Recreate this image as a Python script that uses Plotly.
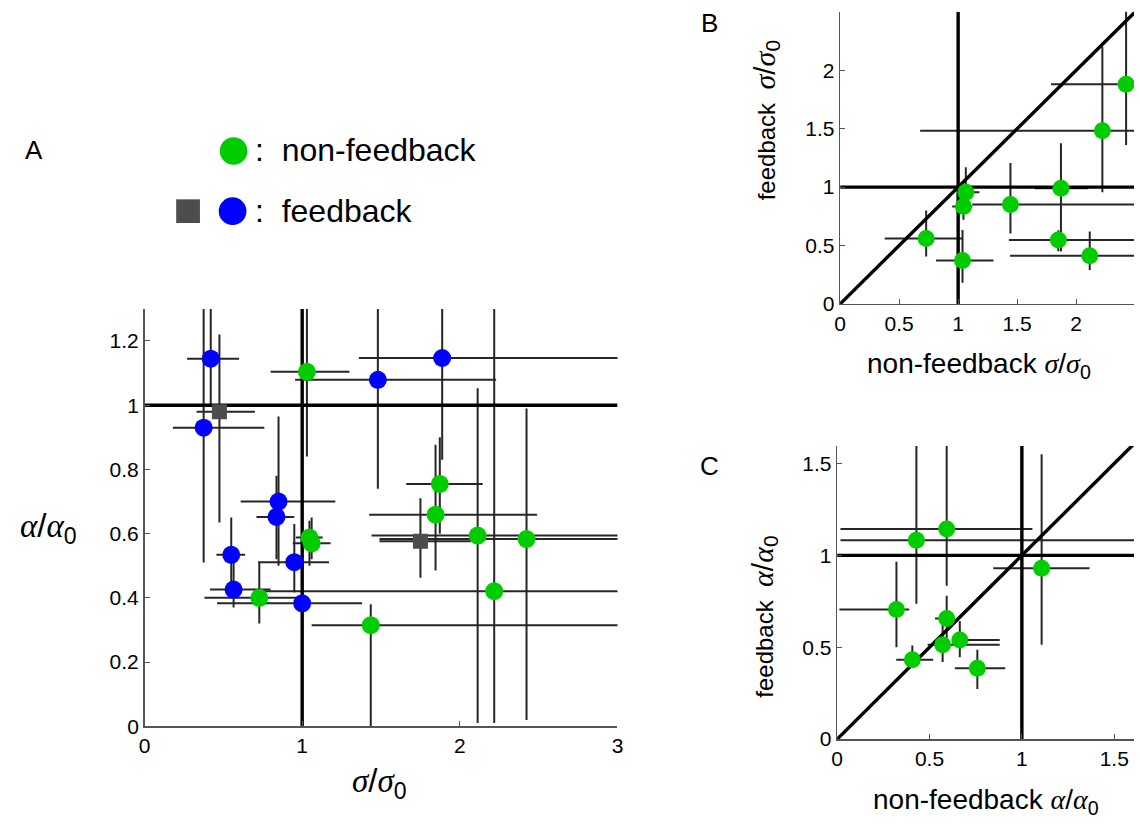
import plotly.graph_objects as go

W, H = 1140, 835
GREEN = '#00CC00'
BLUE = '#0000FF'
GRAY = '#4D4D4D'
ERR = '#262626'
AXC = '#555555'
FONT = 'Liberation Sans, Arial, sans-serif'

# ---------------- Panel A : alpha/alpha0 vs sigma/sigma0 ----------------
# non-feedback (green)
a_nf_sig = [1.03, 1.873, 1.846, 1.046, 1.06, 2.113, 2.423, 2.218, 0.728, 1.435]
a_nf_sig_lo = [0.80, 1.66, 1.425, 0.96, 0.94, 1.44, 1.49, 0.73, 0.38, 1.06]
a_nf_sig_hi = [1.30, 2.145, 2.49, 1.13, 1.18, 3.2, 3.2, 3.2, 0.99, 3.2]
a_nf_alp = [1.104, 0.755, 0.659, 0.588, 0.57, 0.594, 0.583, 0.421, 0.40, 0.315]
a_nf_alp_lo = [0.84, 0.60, 0.485, 0.50, 0.52, 0.01, 0.02, 0.01, 0.32, 0.0]
a_nf_alp_hi = [1.45, 0.90, 0.877, 0.64, 0.65, 1.053, 0.99, 1.45, 0.51, 0.38]

# feedback (blue circles)
a_fb_sig = [0.42, 0.375, 0.85, 0.837, 0.55, 0.565, 0.95, 1.0, 1.48, 1.888]
a_fb_sig_lo = [0.27, 0.18, 0.61, 0.71, 0.456, 0.415, 0.72, 0.46, 0.955, 1.36]
a_fb_sig_hi = [0.60, 0.76, 1.21, 0.95, 0.638, 0.80, 1.17, 1.38, 2.23, 3.2]
a_fb_alp = [1.145, 0.93, 0.70, 0.652, 0.534, 0.426, 0.511, 0.383, 1.079, 1.147]
a_fb_alp_lo = [1.0, 0.51, 0.50, 0.52, 0.43, 0.37, 0.417, 0.26, 0.74, 0.83]
a_fb_alp_hi = [1.45, 1.45, 0.965, 0.78, 0.65, 0.53, 0.63, 0.50, 1.45, 1.45]

# feedback (gray squares)
a_sq_sig = [0.475, 1.75]
a_sq_sig_lo = [0.33, 1.49]
a_sq_sig_hi = [0.70, 2.07]
a_sq_alp = [0.98, 0.576]
a_sq_alp_lo = [0.635, 0.463]
a_sq_alp_hi = [1.22, 0.71]

# ---------------- Panel B : feedback vs non-feedback sigma/sigma0 ----------------
b_x = [0.729, 1.037, 1.045, 1.065, 1.443, 1.871, 1.849, 2.115, 2.222, 2.423]
b_x_lo = [0.378, 0.813, 0.95, 1.0, 1.12, 1.65, 1.43, 1.44, 0.678, 1.787]
b_x_hi = [1.037, 1.30, 1.12, 1.18, 2.6, 2.1, 2.6, 2.6, 2.6, 2.6]
b_y = [0.561, 0.371, 0.834, 0.955, 0.851, 0.991, 0.548, 0.413, 1.483, 1.881]
b_y_lo = [0.407, 0.182, 0.72, 0.80, 0.603, 0.449, 0.45, 0.29, 0.955, 1.36]
b_y_hi = [0.80, 0.632, 0.95, 1.17, 1.207, 1.376, 0.63, 0.62, 2.20, 2.6]

# ---------------- Panel C : feedback vs non-feedback alpha/alpha0 ----------------
c_x = [0.321, 0.407, 0.429, 0.571, 0.593, 0.593, 0.664, 0.759, 1.107]
c_x_lo = [0.012, 0.32, 0.018, 0.49, 0.018, 0.53, 0.634, 0.637, 0.845]
c_x_hi = [0.39, 0.52, 1.7, 0.88, 1.057, 0.63, 0.88, 0.91, 1.366]
c_y = [0.705, 0.432, 1.083, 0.514, 1.143, 0.657, 0.539, 0.386, 0.93]
c_y_lo = [0.50, 0.39, 0.737, 0.42, 0.835, 0.55, 0.446, 0.273, 0.514]
c_y_hi = [0.965, 0.51, 1.7, 0.64, 1.7, 0.78, 0.643, 0.486, 1.55]

# axis settings
A_XMAX, A_YMAX = 3.0, 1.3
B_XMAX, B_YMAX = 2.49, 2.5
C_XMAX, C_YMAX = 1.607, 1.595
REF = 1.0

A_XTICKS = [0, 1, 2, 3]
A_YTICKS = [0, 0.2, 0.4, 0.6, 0.8, 1.0, 1.2]
B_TICKS = [0, 0.5, 1, 1.5, 2]
C_TICKS = [0, 0.5, 1, 1.5]


def px(x):
    return x / W


def py(y):
    return 1 - y / H


def err_trace(x, y, xlo, xhi, ylo, yhi, xa, ya):
    return go.Scatter(
        x=x, y=y, xaxis=xa, yaxis=ya, mode='markers',
        marker=dict(size=2, color='rgba(0,0,0,0)'),
        error_x=dict(type='data', symmetric=False,
                     array=[h - v for h, v in zip(xhi, x)],
                     arrayminus=[v - l for v, l in zip(x, xlo)],
                     width=0, thickness=2, color=ERR),
        error_y=dict(type='data', symmetric=False,
                     array=[h - v for h, v in zip(yhi, y)],
                     arrayminus=[v - l for v, l in zip(y, ylo)],
                     width=0, thickness=2, color=ERR),
        hoverinfo='skip', showlegend=False)


def ref_line(xs, ys, xa, ya):
    return go.Scatter(x=xs, y=ys, xaxis=xa, yaxis=ya, mode='lines',
                      line=dict(color='black', width=3.4),
                      hoverinfo='skip', showlegend=False)


def pts(x, y, color, xa, ya, symbol='circle', size=18):
    return go.Scatter(x=x, y=y, xaxis=xa, yaxis=ya, mode='markers',
                      marker=dict(color=color, size=size, symbol=symbol,
                                  line=dict(width=0)),
                      showlegend=False)


fig = go.Figure()

# Panel A
fig.add_trace(err_trace(a_nf_sig, a_nf_alp, a_nf_sig_lo, a_nf_sig_hi, a_nf_alp_lo, a_nf_alp_hi, 'x', 'y'))
fig.add_trace(err_trace(a_fb_sig, a_fb_alp, a_fb_sig_lo, a_fb_sig_hi, a_fb_alp_lo, a_fb_alp_hi, 'x', 'y'))
fig.add_trace(err_trace(a_sq_sig, a_sq_alp, a_sq_sig_lo, a_sq_sig_hi, a_sq_alp_lo, a_sq_alp_hi, 'x', 'y'))
fig.add_trace(ref_line([REF, REF], [0, A_YMAX], 'x', 'y'))
fig.add_trace(ref_line([0, A_XMAX], [REF, REF], 'x', 'y'))
fig.add_trace(pts(a_sq_sig, a_sq_alp, GRAY, 'x', 'y', symbol='square', size=15))
fig.add_trace(pts(a_nf_sig, a_nf_alp, GREEN, 'x', 'y'))
fig.add_trace(pts(a_fb_sig, a_fb_alp, BLUE, 'x', 'y'))

# Panel B
fig.add_trace(err_trace(b_x, b_y, b_x_lo, b_x_hi, b_y_lo, b_y_hi, 'x2', 'y2'))
fig.add_trace(ref_line([REF, REF], [0, B_YMAX], 'x2', 'y2'))
fig.add_trace(ref_line([0, B_XMAX], [REF, REF], 'x2', 'y2'))
fig.add_trace(ref_line([0, B_YMAX], [0, B_YMAX], 'x2', 'y2'))
fig.add_trace(pts(b_x, b_y, GREEN, 'x2', 'y2', size=17))

# Panel C
fig.add_trace(err_trace(c_x, c_y, c_x_lo, c_x_hi, c_y_lo, c_y_hi, 'x3', 'y3'))
fig.add_trace(ref_line([REF, REF], [0, C_YMAX], 'x3', 'y3'))
fig.add_trace(ref_line([0, C_XMAX], [REF, REF], 'x3', 'y3'))
fig.add_trace(ref_line([0, C_XMAX], [0, C_XMAX], 'x3', 'y3'))
fig.add_trace(pts(c_x, c_y, GREEN, 'x3', 'y3', size=17))

axis_common = dict(showline=True, linecolor=AXC, linewidth=1.5, mirror=False,
                   showgrid=False, zeroline=False, ticks='inside', ticklen=5,
                   tickcolor=AXC, tickwidth=1, tickfont=dict(family=FONT, size=21, color='black'),
                   fixedrange=True)

fig.update_layout(
    width=W, height=H, margin=dict(l=0, r=0, t=0, b=0),
    paper_bgcolor='white', plot_bgcolor='white', showlegend=False,
    xaxis=dict(domain=[px(140), px(618)], range=[0, A_XMAX], tickvals=A_XTICKS,
               anchor='y', **axis_common),
    yaxis=dict(domain=[py(736), py(313)], range=[0, A_YMAX], tickvals=A_YTICKS,
               anchor='x', **axis_common),
    xaxis2=dict(domain=[px(843), 1.0], range=[0, B_XMAX], tickvals=B_TICKS,
                anchor='y2', **axis_common),
    yaxis2=dict(domain=[py(308), py(12)], range=[0, B_YMAX], tickvals=B_TICKS,
                anchor='x2', **axis_common),
    xaxis3=dict(domain=[px(840), 1.0], range=[0, C_XMAX], tickvals=C_TICKS,
                anchor='y3', **axis_common),
    yaxis3=dict(domain=[py(749), py(452)], range=[0, C_YMAX], tickvals=C_TICKS,
                anchor='x3', **axis_common),
)


def greek_ratio(ch, size=None):
    st = "font-family:'Liberation Serif', serif"
    if size:
        st += ";font-size:%dpx" % size
    g = "<span style=\"%s\"><i>%s</i></span>" % (st, ch)
    sl = "<span style=\"font-size:%dpx\">/</span>" % size if size else "/"
    sub = "<sub><span style=\"font-size:%dpx\">0</span></sub>" % int(size * 0.7) if size else "<sub>0</sub>"
    return g + sl + g + sub


SIG = greek_ratio('σ')
ALP = greek_ratio('α')


def ann(text, x, y, size, angle=0, xanchor='center'):
    fig.add_annotation(text=text, x=px(x), y=py(y), xref='paper', yref='paper',
                       showarrow=False, textangle=angle, xanchor=xanchor, yanchor='middle',
                       font=dict(family=FONT, size=size, color='black'))


ann('A', 28, 152, 26)
ann('B', 711, 23, 26)
ann('C', 711, 472, 26)
ann(SIG, 377, 793, 33)
ann(ALP, 43, 535, 33)
ann('non-feedback ' + SIG, 983, 370, 28)
ann('feedback  ' + greek_ratio('σ', 30), 768, 122, 24, angle=-90)
ann('non-feedback ' + ALP, 990, 812, 28)
ann('feedback  ' + greek_ratio('α', 30), 766, 625, 24, angle=-90)
ann(':  non-feedback', 250, 152, 32, xanchor='left')
ann(':  feedback', 250, 214, 32, xanchor='left')

# legend symbols
R = 14
for cx, cy, col in [(230, 153, GREEN), (229, 214, BLUE)]:
    fig.add_shape(type='circle', xref='paper', yref='paper',
                  x0=px(cx - R), x1=px(cx + R), y0=py(cy + R), y1=py(cy - R),
                  fillcolor=col, line=dict(width=0))
S = 12
fig.add_shape(type='rect', xref='paper', yref='paper',
              x0=px(184 - S), x1=px(184 + S), y0=py(214 + S), y1=py(214 - S),
              fillcolor=GRAY, line=dict(width=0))

fig.write_html("out.html", config={'displayModeBar': False, 'staticPlot': True},
               post_script="document.body.style.margin='0';document.body.style.padding='0';"
                           "document.body.style.overflow='hidden';"
                           "document.documentElement.style.overflow='hidden';")
